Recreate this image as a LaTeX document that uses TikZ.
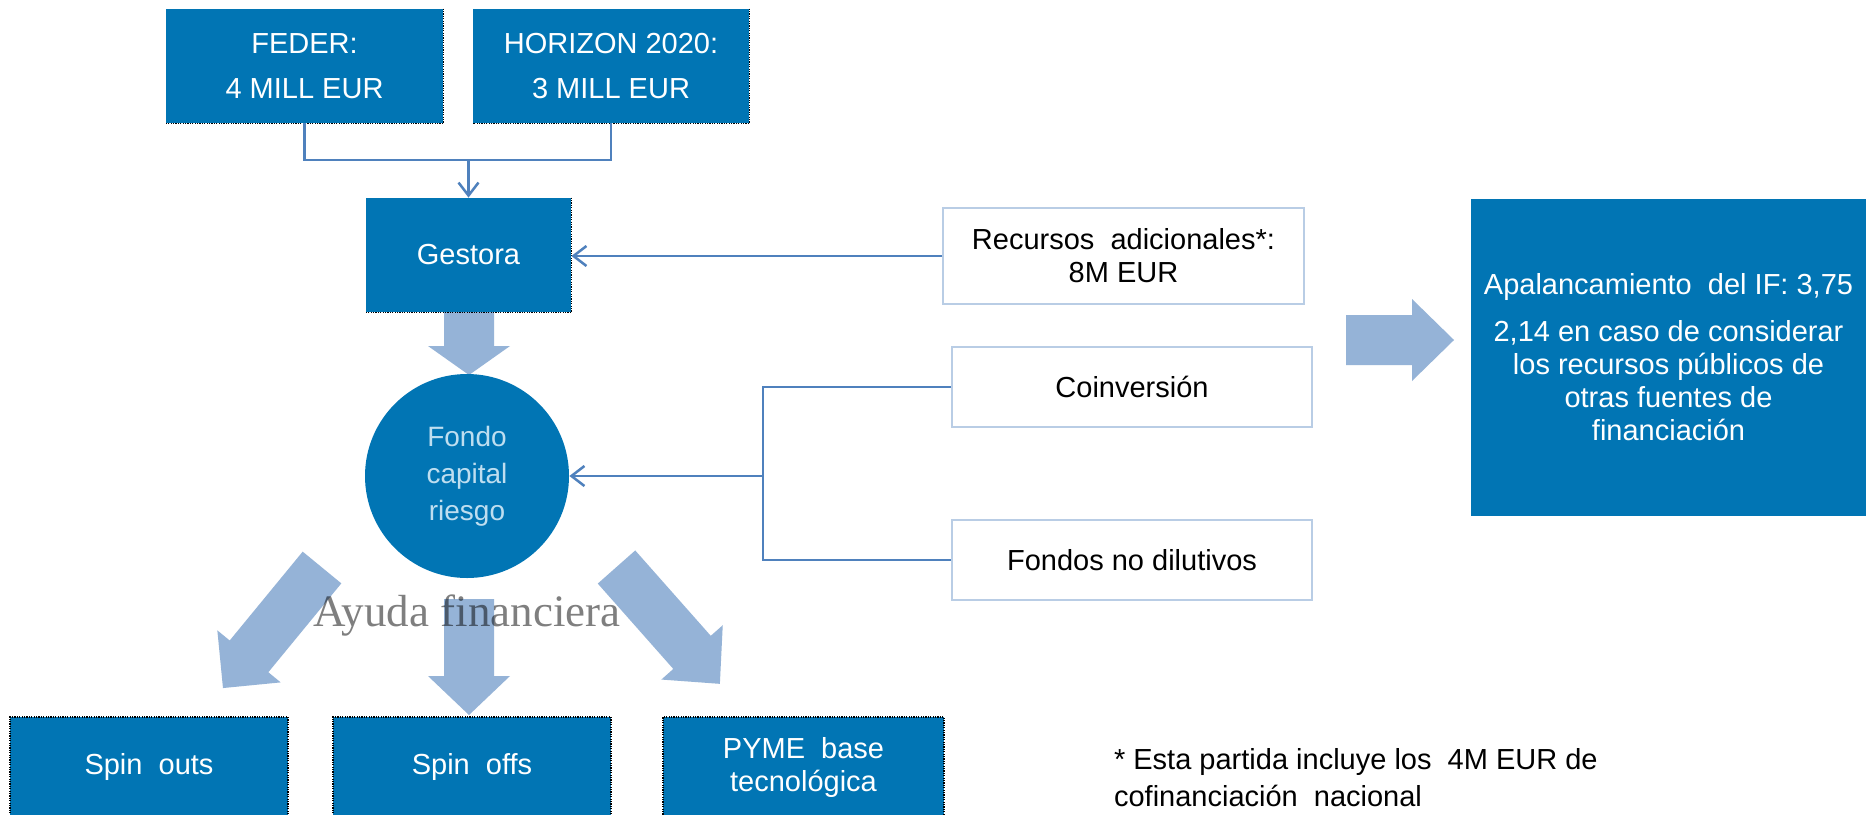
\documentclass[tikz,border=0pt]{standalone}
\usepackage{fontspec}
\setmainfont{Liberation Sans}
\newfontfamily\ayudafont{Liberation Serif}
\usepackage{tikz}
\usetikzlibrary{arrows.meta}
\definecolor{BoxBlue}{RGB}{1,117,180}
\definecolor{FatArrowBlue}{RGB}{149,179,215}
\definecolor{LinkBlue}{RGB}{79,129,189}
\definecolor{PaleEdge}{RGB}{185,205,229}
\definecolor{FondoText}{RGB}{190,222,240}

\begin{document}
\begin{tikzpicture}[x=0.5pt,y=-0.5pt,
  txt/.style={font={\fontsize{14.5}{16.5}\selectfont}},
  bluebox/.style n args={2}{txt,fill=BoxBlue,text=white,minimum width=#1pt,minimum height=#2pt,inner sep=0pt,align=center,rectangle},
  palebox/.style n args={2}{txt,draw=PaleEdge,line width=1pt,fill=white,minimum width=#1pt,minimum height=#2pt,inner sep=0pt,align=center,rectangle},
  dotedge/.style={draw=black,line width=0.6pt,dash pattern=on 0.6pt off 0.6pt},
  link/.style={draw=LinkBlue,line width=1.25pt},
  linkarrow/.style={link,-{Straight Barb[length=6.5pt,width=10pt]}}]
\clip (0,0) rectangle (1871,814);
\fill[white] (0,0) rectangle (1871,814);
% fat arrows
\foreach \sx/\sy/\ang/\len/\hd in %
{469/312/-90/63/29,469/599/-90/116/39,322/567.5/-129.4/156/41,616.5/567/-48.5/156/42,1346/340/0/108/42} {
   \fill[FatArrowBlue,shift={(\sx,\sy)},rotate=\ang] (0,-25) -- (\len-\hd,-25) -- (\len-\hd,-41) -- (\len,0)
      -- (\len-\hd,41) -- (\len-\hd,25) -- (0,25) -- cycle;
}
\node[bluebox={138.5}{57}](feder) at(304.5,66) {FEDER:\\[6pt]4 MILL EUR};
\node[bluebox={138}{57}](horizon) at(611,66) {HORIZON 2020:\\[6pt]3 MILL EUR};
\node[bluebox={102.5}{57}](gestora) at(468.5,255) {Gestora};
\foreach \n in {feder,horizon,gestora} {
   \draw[dotedge] (\n.north east) -- (\n.south east) -- (\n.south west);
}
\node[circle,fill=BoxBlue,minimum size=102pt,inner sep=0pt,text=FondoText,align=center,
   font={\fontsize{14}{18.5}\selectfont}](fondo) at(467,476) {Fondo\\capital\\riesgo};
\node[palebox={180.5}{48}](recursos) at(1123.5,256) {Recursos\ \ adicionales*:\\8M EUR};
\node[palebox={180}{40}](coinversion) at(1132,387) {Coinversión};
\node[palebox={180}{40}](dilutivos) at(1132,560) {Fondos no dilutivos};
\node[bluebox={197.5}{158.5}](apalanca) at(1668.5,357.5)
   {Apalancamiento\ \ del IF: 3,75\\[7pt]2,14 en caso de considerar\\los recursos públicos de\\otras fuentes de\\financiación};
\node[bluebox={139}{50},dotedge](spinouts) at(149,767) {Spin\ \ outs};
\node[bluebox={139}{50},dotedge](spinoffs) at(472,767) {Spin\ \ offs};
\node[bluebox={140.5}{50},dotedge](pyme) at(803.5,767) {PYME\ \ base\\tecnológica};
\node[anchor=base,font={\ayudafont\fontsize{22.5}{24}\selectfont},text=black,text opacity=0.5](ayuda) at(467,626) {Ayuda financiera};
\node[txt,anchor=west,align=left,font={\fontsize{14.5}{18.5}\selectfont}](nota) at(1107,778)
   {* Esta partida incluye los\ \ 4M EUR de\\cofinanciación\ \ nacional};
% connectors
\coordinate (join) at (gestora.north |- 0,160);
\draw[link] (feder.south) |- (join) -| (horizon.south);
\draw[linkarrow] (join) -- (gestora.north);
\draw[linkarrow] (recursos.west) -- (gestora.east |- recursos.west);
\coordinate (bus) at (763,476);
\draw[link] (coinversion.west) -| (bus) |- (dilutivos.west);
\draw[linkarrow] (bus) -- (fondo.east);
\end{tikzpicture}
\end{document}
